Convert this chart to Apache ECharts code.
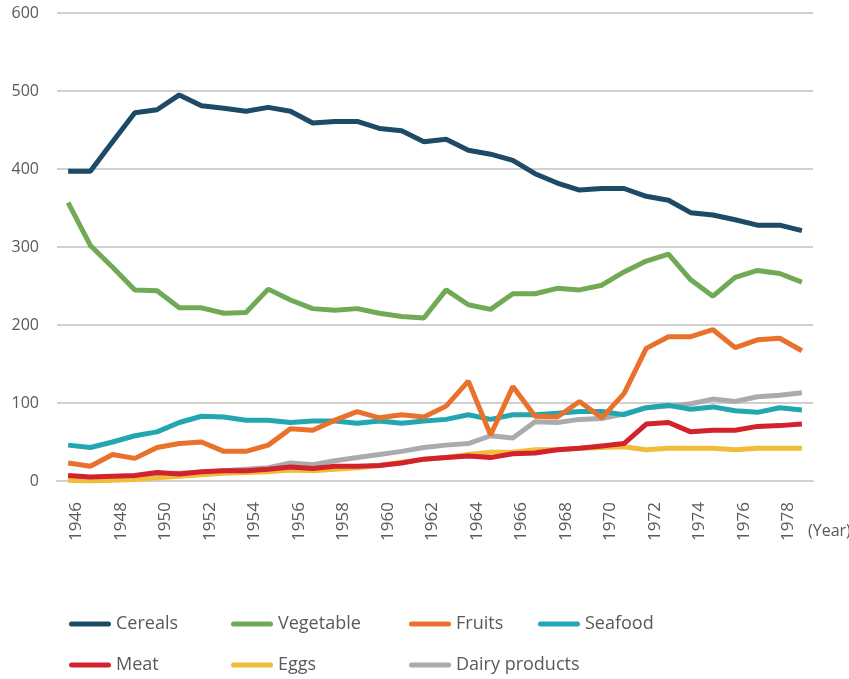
<meta charset="utf-8">
<script src="https://cdn.jsdelivr.net/npm/echarts/dist/echarts.min.js"></script>
<div id="main" style="position:absolute;left:0;top:0;width:849px;height:679px"></div>
<script>
const years = []
for (let y = 1946; y <= 1979; y++) years.push(String(y))

const cereals = [397,397,435,472,476,495,481,478,474,479,474,459,461,461,452,449,435,438,424,419,411,394,382,373,375,375,365,360,344,341,335,328,328,321]
const vegetable = [357,302,274,245,244,222,222,215,216,246,232,221,219,221,215,211,209,245,226,220,240,240,247,245,251,268,282,291,258,237,261,270,266,255]
const fruits = [23,19,34,29,43,48,50,38,38,46,67,65,78,89,81,85,82,96,128,59,121,83,82,102,81,112,170,185,185,194,171,181,183,167]
const seafood = [46,43,50,58,63,75,83,82,78,78,75,77,77,74,77,74,77,79,85,79,85,85,87,89,89,85,94,97,92,95,90,88,94,91]
const meat = [7,5,6,7,11,9,12,13,13,15,18,16,19,19,20,23,28,30,32,30,35,36,40,42,45,48,73,75,63,65,65,70,71,73]
const eggs = [1,0,1,2,4,6,8,10,11,12,14,13,15,17,20,24,28,30,34,37,37,40,40,42,43,44,40,42,42,42,40,42,42,42]
const dairy = [4,3,5,6,9,10,11,13,15,17,23,21,26,30,34,38,43,46,48,58,55,76,75,79,80,86,94,96,99,105,102,108,110,113]

const names = ['Cereals','Vegetable','Fruits','Seafood','Meat','Eggs','Dairy products']
const colors = ['#1d4a66','#70aa55','#e9712c','#22a7b1','#d2222d','#f0bd3a','#aaabae']
const values = [cereals, vegetable, fruits, seafood, meat, eggs, dairy]
// legend slots, [left, top]
const legendPos = [[69,615],[231,615],[409,615],[538,615],[69,656],[231,656],[409,656]]

const font = '"Open Sans", "Liberation Sans", sans-serif'
const grey = '#58595b'
const capsule = 'path://M2.5,0H39.5A2.5,2.5 0 0 1 39.5,5H2.5A2.5,2.5 0 0 1 2.5,0Z'

let myChart = echarts.init(main)
myChart.setOption({
  backgroundColor: '#fff',
  animation: false,
  textStyle: {fontFamily: font},
  grid: {left: 57, right: 36, top: 13, bottom: 198},
  legend: names.map((n, i) => ({
    data: [n],
    left: legendPos[i][0],
    top: legendPos[i][1],
    padding: 0,
    icon: capsule,
    itemWidth: 42,
    itemHeight: 5,
    textStyle: {fontSize: 18, color: grey, fontFamily: font},
  })),
  xAxis: {
    type: 'category',
    data: years,
    boundaryGap: true,
    axisLine: {lineStyle: {color: '#d0d0d0', width: 2}},
    axisTick: {show: false},
    axisLabel: {
      interval: 1, rotate: 90, margin: 21, fontSize: 17, color: grey,
      verticalAlign: 'top', fontFamily: font,
    },
  },
  yAxis: {
    type: 'value',
    min: 0, max: 600, interval: 100,
    axisLine: {show: false},
    axisTick: {show: false},
    splitLine: {lineStyle: {color: '#d0d0d0', width: 2}},
    axisLabel: {fontSize: 16, color: grey, align: 'right', margin: 18, padding: [5, 0, 0, 0], fontFamily: font},
  },
  graphic: [{
    type: 'text', left: 808, top: 523,
    style: {text: '(Year)', fontSize: 16, fill: grey, fontFamily: font},
  }],
  // legend order is top-down in the picture, so later legend entries sit underneath
  series: names.map((n, i) => ({
    name: n,
    type: 'line',
    data: values[i],
    symbol: 'none',
    z: 10 - i,
    color: colors[i],
    lineStyle: {width: 5, color: colors[i]},
  })),
})
</script>
